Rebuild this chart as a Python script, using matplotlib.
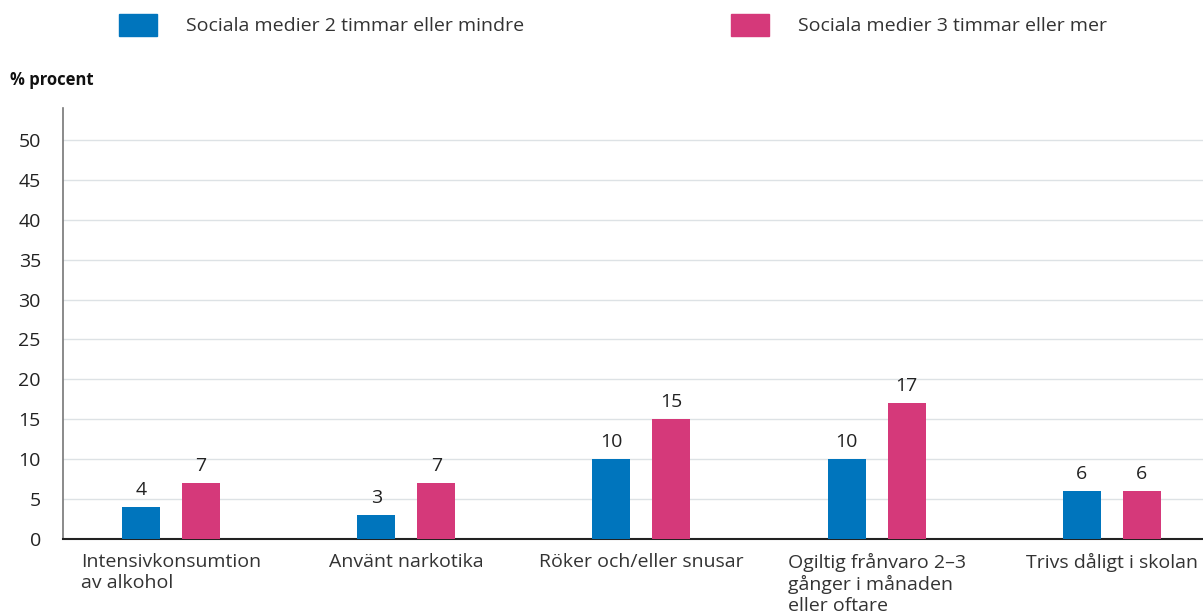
import matplotlib.pyplot as plt
import numpy as np

plt.rcParams['font.family'] = ['Open Sans', 'DejaVu Sans']

categories = ["Intensivkonsumtion\nav alkohol", "Använt narkotika", "Röker och/eller snusar",
              "Ogiltig frånvaro 2–3\ngånger i månaden\neller oftare", "Trivs dåligt i skolan"]
low_use = [4, 3, 10, 10, 6]    # 2 timmar eller mindre
high_use = [7, 7, 15, 17, 6]   # 3 timmar eller mer
series_names = ["Sociala medier 2 timmar eller mindre", "Sociala medier 3 timmar eller mer"]
yticks = [0, 5, 10, 15, 20, 25, 30, 35, 40, 45, 50]

blue = "#0075BD"
pink = "#D5397A"
txt = "#222222"
fs = 14

fig = plt.figure(figsize=(12.03, 6.13), dpi=100)
ax = fig.add_axes([0.0524, 0.1207, 0.9476, 0.7031])

x = np.arange(len(categories))
w = 0.1615
off = 0.1275
b1 = ax.bar(x - off, low_use, w, color=blue, zorder=3)
b2 = ax.bar(x + off, high_use, w, color=pink, zorder=3)

for bars, vals in ((b1, low_use), (b2, high_use)):
    for r, v in zip(bars, vals):
        ax.annotate(str(v), (r.get_x() + r.get_width() / 2, v), xytext=(0, 6),
                    textcoords="offset points", ha="center", va="bottom",
                    fontsize=fs, color=txt)

ax.set_xlim(-0.459, 4.387)
ax.set_ylim(0, 54)
ax.set_yticks(yticks)
ax.set_yticklabels([str(t) for t in yticks], fontsize=fs, color=txt)
ax.tick_params(axis='y', length=0, pad=16)
ax.tick_params(axis='x', length=0, pad=10)
ax.set_xticks(x)
ax.set_xticklabels(categories, fontsize=fs, color="#333333", linespacing=1.2,
                   va="top", multialignment="left")

ax.grid(axis='y', color="#DDE2E5", linewidth=1, zorder=0)
ax.spines['top'].set_visible(False)
ax.spines['right'].set_visible(False)
ax.spines['left'].set_color("#777777")
ax.spines['left'].set_linewidth(1.2)
ax.spines['bottom'].set_color("#222222")
ax.spines['bottom'].set_linewidth(1.5)

fig.text(10 / 1203, 1 - 80 / 613, "% procent", fontsize=12, fontweight="bold",
         color="#111111", va="center", ha="left")

# legend drawn by hand as boxes and labels in figure coordinates
for x0, col, name in ((119, blue, series_names[0]), (731, pink, series_names[1])):
    fig.patches.append(plt.Rectangle((x0 / 1203, 1 - 36 / 613), 38 / 1203, 22 / 613,
                                     transform=fig.transFigure, color=col))
    fig.text((x0 + 67) / 1203, 1 - 26 / 613, name, fontsize=fs, color="#333333",
             va="center", ha="left")

fig.savefig("out.png", dpi=100)
